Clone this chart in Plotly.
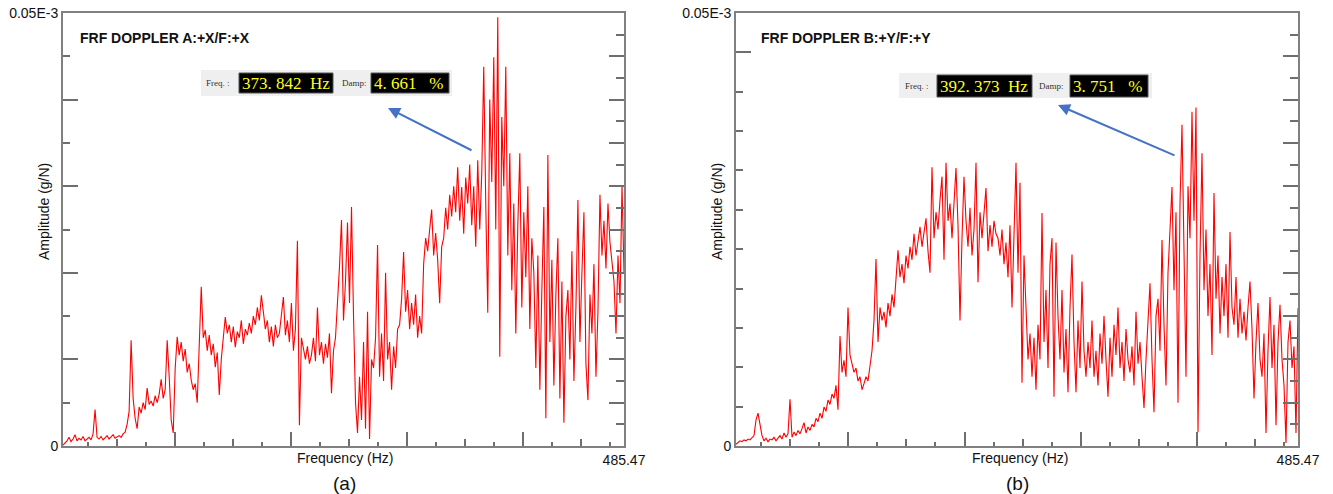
import numpy as np
import plotly.graph_objects as go

# ---------------- data (amplitude in 1e-6 g/N) ----------------
F_MAX = 485.47
Y_MAX = 0.05e-3
UNIT = 1e-6

amp_a = [
    0.1, 0.3, 0.6, 1.0, 0.5, 0.8, 1.3, 0.6, 0.9, 0.7, 1.1, 0.6, 0.8, 1.0, 0.7, 1.4,
    4.2, 1.0,
    0.8, 1.1, 0.7, 0.9, 1.2, 0.8, 1.0, 1.3, 0.9, 1.1, 1.2, 1.0, 1.4, 1.6,
    2.5, 4.0, 12.2, 5.5,
    3.2, 2.0, 4.5, 3.8, 5.0, 4.2, 6.7, 4.8, 5.2, 4.6, 5.8, 5.0, 6.0,
    7.7, 5.5, 6.5, 12.2, 8.0, 3.0, 1.5, 9.0,
    12.6, 10.5, 12.0, 9.8, 11.2, 8.5, 9.5, 7.6, 6.5, 7.2,
    5.0, 10.7, 18.4, 12.5, 13.4, 11.0, 12.8, 10.5, 11.8, 9.1, 10.8, 5.9, 10.0,
    12.5, 14.9, 13.0, 14.0, 12.0, 13.8, 11.4, 13.2, 12.5, 14.5, 11.8, 13.5, 12.8, 14.2, 13.0, 15.0, 14.0, 16.0, 14.5, 17.4,
    15.5, 13.5, 14.5, 12.0, 13.8, 11.5, 14.0, 12.5, 13.0, 15.0, 17.2, 12.8, 14.5, 12.0, 16.5, 11.0, 13.5,
    23.7, 2.4, 12.5,
    11.0, 10.0, 11.5, 9.5, 10.5, 12.5, 9.8, 16.0, 10.5, 12.0, 9.5, 11.8, 10.2, 13.0, 6.1, 11.0, 12.5,
    16.0, 20.7, 26.1, 14.5, 19.0, 25.8, 16.5, 27.6, 15.0,
    5.0, 1.5, 8.0, 3.0,
    12.0, 2.0, 15.5, 0.8, 10.0,
    9.0, 12.5, 23.2, 8.0, 13.0, 7.5, 20.0, 10.0, 12.0, 6.5, 11.5, 9.0, 13.5,
    14.0, 17.0, 22.4, 15.5, 18.0, 13.5, 16.5, 14.0, 17.5, 12.5, 15.0, 13.0,
    21.0, 24.0, 22.5, 25.0, 27.3, 22.0, 24.6, 21.5, 16.5, 23.0,
    24.0, 27.5, 25.0, 29.0, 26.5, 30.0, 27.0, 32.2, 26.0, 29.9, 24.5, 31.0, 28.0, 32.5, 25.5,
    30.0, 23.0, 33.0, 25.0, 31.5,
    43.8, 28.0, 15.4, 40.0, 30.5, 44.9, 25.0, 49.5, 10.3, 38.0, 30.0, 43.8, 22.0,
    33.8, 18.0, 28.0, 13.0, 25.5, 33.8, 16.0, 27.0, 19.5, 30.0, 13.5, 24.0,
    20.0, 9.0, 22.0, 6.5, 18.0, 27.6, 3.2, 33.6, 12.0, 21.5, 7.0, 17.5, 24.0, 5.5, 19.0, 2.7, 15.0,
    18.0, 10.0, 22.5, 7.5, 16.0, 28.4, 12.0, 20.0, 27.0, 9.5, 5.3, 17.5, 13.0, 21.0, 8.0, 15.5,
    29.0, 22.0, 26.0, 20.5, 28.0, 23.5, 21.0,
    19.0, 13.0, 22.0, 16.5, 30.1, 20.0,
]

amp_b = [
    0.2, 0.4, 0.6, 0.5, 0.7, 0.6, 0.8, 0.7, 0.9, 1.2,
    3.0, 3.8, 2.5, 1.2,
    0.6, 0.9, 0.5, 0.8, 0.7, 1.0, 0.6, 0.9, 1.2, 0.8, 1.5, 1.0, 1.4,
    5.4,
    1.0, 1.6, 1.2, 1.8, 1.4, 2.0, 2.7, 1.5, 2.2, 1.8,
    2.5, 2.2, 3.2, 2.8, 3.8, 3.2, 4.5, 4.0, 5.3, 4.8,
    6.0, 5.5, 7.0, 4.2, 12.7, 8.5, 9.9, 8.0, 16.0, 10.5,
    9.5, 8.5, 9.0, 7.5, 8.0, 6.5, 7.2, 8.0, 7.5, 9.0,
    11.0, 14.5, 21.6, 12.0,
    16.0, 14.5, 15.5, 13.7, 16.5, 15.0, 17.5, 16.0, 18.8, 22.6,
    19.5, 21.0, 18.8, 22.0, 20.5, 23.0, 21.5, 24.5, 22.0, 23.5, 25.3, 23.0, 24.5, 26.3, 22.5, 20.0,
    32.2, 24.0, 27.0, 25.0, 28.4, 31.1, 21.5, 32.7, 26.0, 28.0, 24.0, 27.5, 32.1, 25.5, 14.5, 24.0, 31.1,
    26.0, 23.0, 27.5, 22.0, 25.0, 32.7, 18.9, 27.0, 24.0, 26.5, 29.8, 22.5, 25.5, 23.0, 26.0, 24.5,
    24.0, 22.0, 25.0, 21.0, 23.5, 19.5, 25.5, 16.0, 24.0, 32.7,
    20.0, 30.4, 7.3, 22.0, 16.0, 10.0, 13.0,
    8.0, 12.5, 6.5, 14.0, 10.0,
    26.9, 12.0, 18.0, 9.0, 21.0, 24.0, 5.7, 23.5,
    15.0, 10.0, 18.0, 8.5, 13.5, 6.2, 16.0, 22.1, 12.0, 6.2, 14.5, 9.0, 19.0, 11.0, 8.0,
    12.0, 9.0, 14.5, 8.0, 11.0, 7.0, 13.0, 9.5, 15.0, 10.0, 5.7, 12.5, 8.0, 14.0, 10.5,
    16.0, 9.0, 12.0, 7.5, 13.5, 10.0, 8.5, 11.5, 7.0, 15.5, 9.5, 12.0, 8.0, 4.4, 10.0,
    14.0, 18.8, 10.0, 3.9, 15.0, 17.0, 11.0, 23.8, 14.0, 7.0, 20.0, 25.0, 29.9, 18.0, 27.0,
    5.0, 28.0, 37.1, 20.0, 8.0, 30.0, 24.0, 38.6, 26.0, 39.1, 1.6, 22.0,
    33.8, 18.0, 25.0, 15.0, 21.0, 10.5, 29.2, 17.0, 22.0, 13.0, 19.5, 15.0, 21.0, 12.5, 24.7, 16.0,
    14.0, 19.5, 12.5, 17.0, 13.0, 15.5, 12.2, 16.0, 19.0, 13.5,
    5.5, 12.0, 16.5, 10.0, 8.0, 13.0, 1.5, 11.0, 17.2, 9.0, 14.0, 2.4,
    12.0, 16.3, 10.0, 7.0, 0.35, 12.0, 14.5, 9.0, 11.5, 1.5, 15.9,
]

freq_a = np.linspace(0, F_MAX, len(amp_a))
freq_b = np.linspace(0, F_MAX, len(amp_b))

# axis tick positions
x_long_ticks = [96.96, 197.44, 297.92, 398.4]
x_mid_ticks = [46.72, 147.2, 247.68, 348.16, 448.64]
x_short_ticks = [21.6, 71.84, 122.08, 172.32, 222.56, 272.8, 323.04, 373.28, 423.52, 473.76]
x_end_label = ["485.47"]
y_end_labels = ["0", "0.05E-3"]

ya_left_long = [10, 20, 30, 40]
ya_left_short = [5, 15, 25, 35, 45]
yb_left_long = [50 * 10 / 11]
yb_left_short = [50 * k / 11 for k in range(1, 10)]
y_right_long = [5, 10, 15, 20, 25, 30, 35, 40, 45]
y_right_short = [2.5, 7.5, 12.5, 17.5, 22.5, 27.5, 32.5, 37.5, 42.5, 47.5]

panel_titles = ["FRF DOPPLER A:+X/F:+X", "FRF DOPPLER B:+Y/F:+Y"]
freq_text = ["373.\u00a0842\u00a0\u00a0Hz", "392.\u00a0373\u00a0\u00a0Hz"]
damp_text = ["4.\u00a0661\u00a0\u00a0\u00a0%", "3.\u00a0751\u00a0\u00a0\u00a0%"]
sub_labels = ["(a)", "(b)"]

# ---------------- layout helpers ----------------
W, H = 1333, 494


def px(x):
    return x / W


def py(y):
    return 1 - y / H


FRAME = "#808080"
TICKC = "#6e6e6e"
FONT = "Liberation Sans, Arial, sans-serif"
YELLOW = "#ffff1a"

dom_a = [px(63), px(624)]
dom_b = [px(736), px(1298)]
dom_y = [py(446), py(13)]

fig = go.Figure()
fig.add_trace(go.Scatter(x=freq_a, y=np.array(amp_a) * UNIT, mode="lines",
                         line=dict(color="#ff0000", width=1.1), xaxis="x", yaxis="y",
                         showlegend=False))
fig.add_trace(go.Scatter(x=freq_b, y=np.array(amp_b) * UNIT, mode="lines",
                         line=dict(color="#ff0000", width=1.1), xaxis="x2", yaxis="y2",
                         showlegend=False))
# empty traces so the overlay tick axes are created
for xa, ya in [("x3", "y"), ("x4", "y2"), ("x", "y3"), ("x2", "y4")]:
    fig.add_trace(go.Scatter(x=[None], y=[None], mode="lines", xaxis=xa, yaxis=ya,
                             showlegend=False, hoverinfo="skip"))


def main_x(dom, anchor):
    return dict(domain=dom, anchor=anchor, range=[0, F_MAX], showgrid=False, zeroline=False,
                automargin=False,
                showline=True, mirror=True, linecolor=FRAME, linewidth=2,
                tickmode="array", tickvals=x_long_ticks + [F_MAX],
                ticktext=[""] * len(x_long_ticks) + x_end_label,
                ticks="inside", ticklen=14, tickwidth=1.5, tickcolor=TICKC,
                tickfont=dict(family=FONT, size=14, color="#111"),
                minor=dict(tickmode="array", tickvals=x_short_ticks, ticks="inside",
                           ticklen=4, tickwidth=1.5, tickcolor=TICKC),
                fixedrange=True)


def over_x(dom, over, anchor):
    return dict(domain=dom, overlaying=over, anchor=anchor, range=[0, F_MAX],
                automargin=False,
                showgrid=False, zeroline=False, showline=False,
                tickmode="array", tickvals=x_mid_ticks, showticklabels=False,
                ticks="inside", ticklen=7, tickwidth=1.5, tickcolor=TICKC)


def main_y(anchor, long_t, short_t):
    return dict(domain=dom_y, anchor=anchor, range=[0, Y_MAX], showgrid=False, zeroline=False,
                automargin=False,
                showline=True, mirror=True, linecolor=FRAME, linewidth=2,
                tickmode="array", tickvals=[v * UNIT for v in long_t] + [0, Y_MAX],
                ticktext=[""] * len(long_t) + y_end_labels,
                ticks="inside", ticklen=15, tickwidth=1.5, tickcolor=TICKC,
                tickfont=dict(family=FONT, size=14, color="#111"),
                minor=dict(tickmode="array", tickvals=[v * UNIT for v in short_t],
                           ticks="inside", ticklen=7, tickwidth=1.5, tickcolor=TICKC))


def right_y(over, anchor):
    return dict(domain=dom_y, overlaying=over, anchor=anchor, side="right", range=[0, Y_MAX],
                automargin=False,
                showgrid=False, zeroline=False, showline=False, showticklabels=False,
                tickmode="array", tickvals=[v * UNIT for v in y_right_long],
                ticks="inside", ticklen=15, tickwidth=1.5, tickcolor=TICKC,
                minor=dict(tickmode="array", tickvals=[v * UNIT for v in y_right_short],
                           ticks="inside", ticklen=8, tickwidth=1.5, tickcolor=TICKC))


fig.update_layout(
    width=W, height=H, margin=dict(l=0, r=0, t=0, b=0, autoexpand=False),
    paper_bgcolor="white", plot_bgcolor="white", showlegend=False,
    xaxis=main_x(dom_a, "y"), xaxis2=main_x(dom_b, "y2"),
    xaxis3=over_x(dom_a, "x", "y"), xaxis4=over_x(dom_b, "x2", "y2"),
    yaxis=main_y("x", ya_left_long, ya_left_short),
    yaxis2=main_y("x2", yb_left_long, yb_left_short),
    yaxis3=right_y("y", "x"), yaxis4=right_y("y2", "x2"),
)

ann = []
shapes = []
cfg = [
    dict(title_x=78, ylab_x=44, freq_x=345, sub_x=344,
         grey=(201, 70, 452, 96), box1=(239, 73, 333, 93), box2=(371, 73, 449, 93),
         flab=218, dlab=354, head=(388, 108), tail=(473, 151)),
    dict(title_x=759, ylab_x=717, freq_x=1020, sub_x=1018,
         grey=(899, 73, 1152, 98), box1=(937, 75, 1032, 97), box2=(1070, 75, 1148, 97),
         flab=917, dlab=1051, head=(1058, 105), tail=(1176, 156)),
]
for i, c in enumerate(cfg):
    ann.append(dict(x=px(c["title_x"]), y=py(38), xref="paper", yref="paper",
                    text="<b>" + panel_titles[i] + "</b>", showarrow=False,
                    xanchor="left", yanchor="middle",
                    font=dict(family=FONT, size=14, color="#111")))
    ann.append(dict(x=px(c["ylab_x"]), y=py(212), xref="paper", yref="paper",
                    text="Amplitude (g/N)", textangle=-90, showarrow=False,
                    xanchor="center", yanchor="middle",
                    font=dict(family=FONT, size=14, color="#111")))
    ann.append(dict(x=px(c["freq_x"]), y=py(458), xref="paper", yref="paper",
                    text="Frequency (Hz)", showarrow=False, xanchor="center", yanchor="middle",
                    font=dict(family=FONT, size=14, color="#111")))
    ann.append(dict(x=px(c["sub_x"]), y=py(483), xref="paper", yref="paper",
                    text=sub_labels[i], showarrow=False, xanchor="center", yanchor="middle",
                    font=dict(family=FONT, size=19, color="#111")))
    g = c["grey"]
    shapes.append(dict(type="rect", xref="paper", yref="paper", x0=px(g[0]), x1=px(g[2]),
                       y0=py(g[3]), y1=py(g[1]), fillcolor="#efefef", line=dict(width=0)))
    for b in (c["box1"], c["box2"]):
        shapes.append(dict(type="rect", xref="paper", yref="paper", x0=px(b[0]), x1=px(b[2]),
                           y0=py(b[3]), y1=py(b[1]), fillcolor="#000000",
                           line=dict(color="#555", width=1)))
    ymid = (c["box1"][1] + c["box1"][3]) / 2
    ann.append(dict(x=px(c["flab"]), y=py(ymid), xref="paper", yref="paper", text="Freq. :",
                    showarrow=False, xanchor="center", yanchor="middle",
                    font=dict(family="Liberation Serif, serif", size=9, color="#333")))
    ann.append(dict(x=px(c["dlab"]), y=py(ymid), xref="paper", yref="paper", text="Damp:",
                    showarrow=False, xanchor="center", yanchor="middle",
                    font=dict(family="Liberation Serif, serif", size=9, color="#333")))
    ann.append(dict(x=px(c["box1"][0] + 1), y=py(ymid + 0.5), xref="paper", yref="paper",
                    text=freq_text[i], showarrow=False, xanchor="left", yanchor="middle",
                    font=dict(family="Liberation Serif, serif", size=17, color=YELLOW)))
    ann.append(dict(x=px(c["box2"][0] + 1), y=py(ymid + 0.5), xref="paper", yref="paper",
                    text=damp_text[i], showarrow=False, xanchor="left", yanchor="middle",
                    font=dict(family="Liberation Serif, serif", size=17, color=YELLOW)))
    hx, hy = c["head"]
    tx, ty = c["tail"]
    ann.append(dict(x=px(hx), y=py(hy), xref="paper", yref="paper", text="",
                    showarrow=True, ax=tx - hx, ay=ty - hy, arrowhead=2, arrowsize=1.2,
                    arrowwidth=2, arrowcolor="#4472c4"))

fig.update_layout(annotations=ann, shapes=shapes)
fig.write_html("out.html", config={"displayModeBar": False},
               post_script="document.body.style.margin='0';document.body.style.padding='0';")
